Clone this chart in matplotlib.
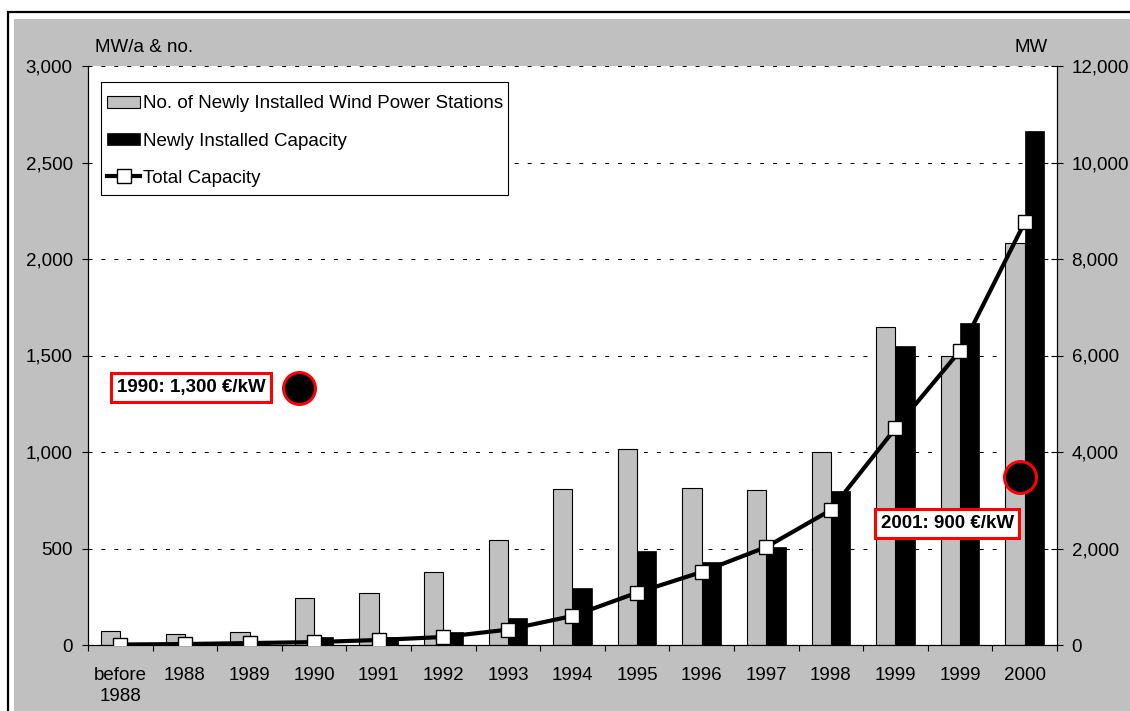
import numpy as np
import matplotlib.pyplot as plt
from matplotlib.patches import Rectangle
from matplotlib.ticker import FixedLocator, FuncFormatter

plt.rcParams['font.family'] = ['Liberation Sans', 'DejaVu Sans']
plt.rcParams['font.size'] = 13.5

# data
years = ['before\n1988', '1988', '1989', '1990', '1991', '1992', '1993', '1994',
         '1995', '1996', '1997', '1998', '1999', '1999', '2000']
stations = [74, 57, 67, 242, 271, 378, 546, 808, 1016, 815, 805, 998, 1648, 1497, 2081]
new_capacity = [6, 8, 12, 40, 43, 66, 141, 294, 489, 430, 509, 800, 1551, 1667, 2663]
total_capacity = [10, 20, 40, 60, 104, 166, 318, 601, 1084, 1513, 2031, 2798, 4493, 6099, 8760]

W, H = 1130, 711
fig = plt.figure(figsize=(W / 100, H / 100), dpi=100)
fig.patch.set_facecolor('white')

# outer frame + grey chart area
fig.patches.append(Rectangle((8 / W, -0.1), 1.2, (H - 12) / H + 0.1, transform=fig.transFigure,
                             facecolor='white', edgecolor='black', lw=1.6, zorder=-10))
fig.patches.append(Rectangle((14 / W, -0.1), 1.2, (H - 19) / H + 0.1, transform=fig.transFigure,
                             facecolor='#c0c0c0', edgecolor='none', zorder=-9))

ax = fig.add_axes([88 / W, 66 / H, 969 / W, 579 / H])
ax.set_facecolor('white')
x = np.arange(len(years))
w = 0.3

b1 = ax.bar(x - w / 2, stations, w, color='#c0c0c0', edgecolor='black', lw=0.8,
            label='No. of Newly Installed Wind Power Stations', zorder=2)
b2 = ax.bar(x + w / 2, new_capacity, w, color='black', edgecolor='black', lw=0.5,
            label='Newly Installed Capacity', zorder=2)

ax.set_xlim(-0.5, len(years) - 0.5)
ax.set_ylim(0, 3000)
ax.set_yticks(np.arange(0, 3001, 500))
fmt = FuncFormatter(lambda v, p: f'{v:,.0f}')
ax.yaxis.set_major_formatter(fmt)
ax.yaxis.grid(True, color='black', lw=0.75, linestyle=(0, (3.8, 8.6)))
ax.set_axisbelow(True)

ax.xaxis.set_major_locator(FixedLocator(np.arange(-0.5, len(years), 1)))
ax.xaxis.set_major_formatter(FuncFormatter(lambda v, p: ''))
ax.xaxis.set_minor_locator(FixedLocator(x))
ax.set_xticklabels(years, minor=True, linespacing=1.35)
ax.tick_params(axis='x', which='major', length=4.5, width=0.8, direction='out')
ax.tick_params(axis='x', which='minor', length=0, pad=15.5)
ax.tick_params(axis='y', length=4.5, width=0.8, direction='out', pad=6.5)

ax2 = ax.twinx()
ax2.set_ylim(0, 12000)
ax2.set_yticks(np.arange(0, 12001, 2000))
ax2.yaxis.set_major_formatter(fmt)
ax2.tick_params(axis='y', length=8, width=0.8, direction='inout', pad=6.5)
ln, = ax2.plot(x, total_capacity, color='black', lw=3, marker='s', markersize=9.5,
               markerfacecolor='white', markeredgecolor='black', markeredgewidth=1,
               label='Total Capacity', zorder=3)

for a in (ax, ax2):
    a.spines['top'].set_visible(False)
    for s in ('left', 'right', 'bottom'):
        a.spines[s].set_linewidth(0.8)

# cost annotations (placed in left-axis units)
box = dict(boxstyle='square,pad=0.3', fc='white', ec='red', lw=2.2)
ax2.text(1.094, 1334, '1990: 1,300 €/kW', transform=ax.transData, ha='center', va='center',
         fontsize=13.5, fontweight='bold', bbox=box, zorder=5)
ax2.text(12.80, 630, '2001: 900 €/kW', transform=ax.transData, ha='center', va='center',
         fontsize=13.5, fontweight='bold', bbox=box, zorder=5)
ax2.plot([2.766], [1333], 'o', transform=ax.transData, markersize=23, markerfacecolor='black',
         markeredgecolor='red', markeredgewidth=2.2, zorder=5)
ax2.plot([13.924], [870], 'o', transform=ax.transData, markersize=23, markerfacecolor='black',
         markeredgecolor='red', markeredgewidth=2.2, zorder=5)

# legend: own frame so the padding matches the original
ax2.add_patch(Rectangle((101 / W, (H - 195) / H), 407 / W, 113 / H, transform=fig.transFigure,
                        facecolor='white', edgecolor='black', lw=0.8, zorder=9, clip_on=False))
leg = ax2.legend(handles=[b1, b2, ln], loc='upper left', bbox_to_anchor=(107 / W, 1 - 95.5 / H),
                 bbox_transform=fig.transFigure, frameon=False,
                 borderaxespad=0, handlelength=1.76, handleheight=0.55, handletextpad=0.18,
                 labelspacing=1.07, borderpad=0)
leg.set_zorder(10)

fig.text(95 / W, 1 - 48 / H, 'MW/a & no.', ha='left', va='center')
fig.text(1048 / W, 1 - 48 / H, 'MW', ha='right', va='center')

fig.savefig('out.png', dpi=100, facecolor=fig.get_facecolor())
